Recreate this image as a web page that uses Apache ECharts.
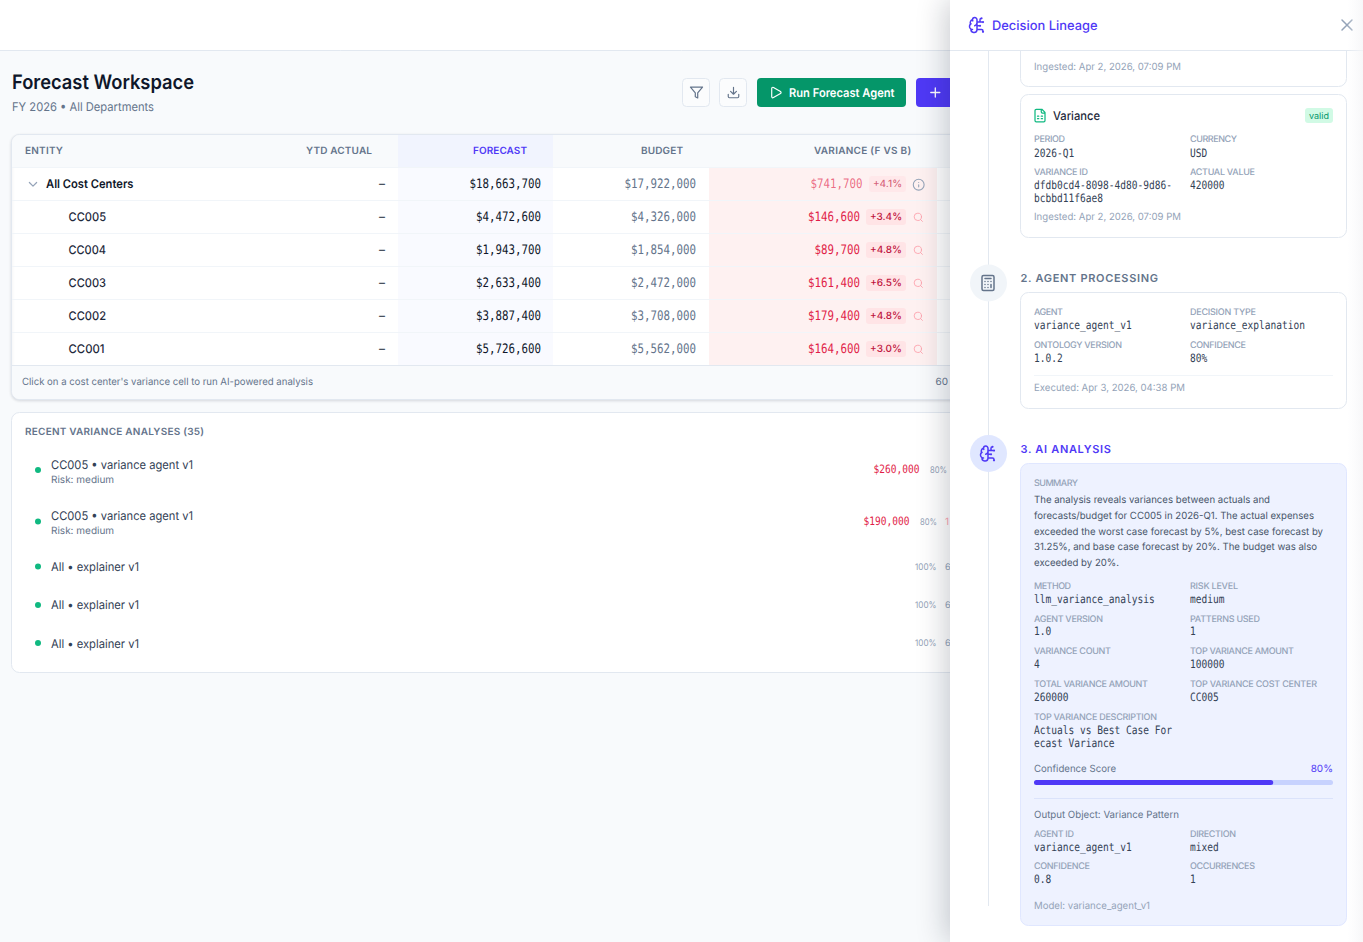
<!DOCTYPE html>
<html><head><meta charset="utf-8">
<style>html,body{margin:0;padding:0;background:#f8fafc}#c{width:1363px;height:942px}</style>
<script src="https://cdn.jsdelivr.net/npm/echarts@6/dist/echarts.min.js"></script></head>
<body><div id="c"></div>
<script>
// ---- data ----
const entities = ['All Cost Centers','CC005','CC004','CC003','CC002','CC001'];
const forecast = [18663700,4472600,1943700,2633400,3887400,5726600];
const budget = [17922000,4326000,1854000,2472000,3708000,5562000];
const variance = [741700,146600,89700,161400,179400,164600];
const variancePct = ['+4.1%','+3.4%','+4.8%','+6.5%','+4.8%','+3.0%'];
const columns = ['ENTITY','YTD ACTUAL','FORECAST','BUDGET','VARIANCE (F VS B)'];
const recentTitles = ['CC005 • variance agent v1','CC005 • variance agent v1','All • explainer v1','All • explainer v1','All • explainer v1'];
const recentRisk = ['Risk: medium','Risk: medium','','',''];
const recentAmounts = ['$260,000','$190,000','','',''];
const recentConfidence = ['80%','80%','100%','100%','100%'];
const summaryLines = ['The analysis reveals variances between actuals and','forecasts/budget for CC005 in 2026-Q1. The actual expenses','exceeded the worst case forecast by 5%, best case forecast by','31.25%, and base case forecast by 20%. The budget was also','exceeded by 20%.'];
const confidenceScore = [80];

// text quality: opaque canvas, unhinted glyphs, real letter spacing on tracked labels
const tracking=new Map();
const origGet=HTMLCanvasElement.prototype.getContext;
HTMLCanvasElement.prototype.getContext=function(t,o){
  const c=origGet.call(this,t,t==='2d'?Object.assign({alpha:false},o):o);
  if(t==='2d'&&c) c.textRendering='geometricPrecision';
  return c;
};
const origFill=CanvasRenderingContext2D.prototype.fillText;
CanvasRenderingContext2D.prototype.fillText=function(s,x,y,m){
  this.textRendering='geometricPrecision';
  this.letterSpacing=tracking.has(s)?tracking.get(s)+'px':'0px';
  return m==null?origFill.call(this,s,x,y):origFill.call(this,s,x,y,m);
};

const PURPLE='#4f39f6', SANS='Inter', MONO='"DejaVu Sans Mono"';
const mc=document.createElement('canvas').getContext('2d');
const els=[];
function rect(x,y,w,h,fill,o={}){els.push({type:'rect',silent:true,shape:{x,y,width:w,height:h,r:o.r||0},style:Object.assign({fill:fill||'none',stroke:o.stroke||null,lineWidth:o.lw||1},o.style||{})});}
function hline(x1,x2,y,c){els.push({type:'line',silent:true,shape:{x1,y1:y,x2,y2:y},style:{stroke:c,lineWidth:1}});}
function vline(x,y1,y2,c){els.push({type:'line',silent:true,shape:{x1:x,y1,x2:x,y2},style:{stroke:c,lineWidth:1}});}
function circle(cx,cy,r,fill){els.push({type:'circle',silent:true,shape:{cx,cy,r},style:{fill}});}
function text(s,x,y,o={}){
  const size=o.size||12,weight=o.weight||400,fam=o.fam||SANS;
  const font=`${weight} ${size}px ${fam}`;
  let sx=o.sx||1;
  if(o.w){mc.font=font;mc.textRendering='geometricPrecision';const m=mc.measureText(s).width;
    if(o.track) tracking.set(s,(o.w-m)/(s.length-1)); else sx=o.w/m;}
  els.push({type:'text',silent:true,x,y,scaleX:sx,style:{text:s,font,fill:o.color||'#0f172a',align:o.align||'left',verticalAlign:'middle',opacity:o.op==null?1:o.op}});
}
function mono(s,x,y,o={}){const size=o.size||11.5,cw=o.cw||5.75;text(s,x,y+.7,Object.assign({fam:MONO,color:'#334155'},o,{size,sx:cw/(size*0.602)}));}
function label(s,x,y,w){text(s,x,y,{size:9,color:'#94a3b8',weight:500,w,track:true});}
const I={
 filter:'M22 3H2l8 9.46V19l4 2v-8.54L22 3z',
 download:'M21 15v4a2 2 0 0 1-2 2H5a2 2 0 0 1-2-2v-4M7 10l5 5 5-5M12 15V3',
 play:'M5 5a2 2 0 0 1 3.008-1.728l11.997 6.998a2 2 0 0 1 .003 3.458l-12 7A2 2 0 0 1 5 19z',
 plus:'M5 12h14M12 5v14',
 chevron:'M6 9l6 6 6-6',
 info:'M22 12a10 10 0 1 1-20 0a10 10 0 1 1 20 0zM12 16v-4M12 8h.01',
 search:'M19 11a8 8 0 1 1-16 0a8 8 0 1 1 16 0zM21 21l-4.3-4.3',
 sheet:'M15 2H6a2 2 0 0 0-2 2v16a2 2 0 0 0 2 2h12a2 2 0 0 0 2-2V7zM14 2v4a2 2 0 0 0 2 2h4M8 13h2M14 13h2M8 17h2M14 17h2',
 calc:'M6 2h12a2 2 0 0 1 2 2v16a2 2 0 0 1-2 2H6a2 2 0 0 1-2-2V4a2 2 0 0 1 2-2zM8 6h8M16 14v4M16 10h.01M12 10h.01M8 10h.01M12 14h.01M8 14h.01M12 18h.01M8 18h.01',
 brain:'M12 5a3 3 0 1 0-5.997.125 4 4 0 0 0-2.526 5.77 4 4 0 0 0 .556 6.588A4 4 0 1 0 12 18zM9 13a4.5 4.5 0 0 0 3-4M6.003 5.125A3 3 0 0 0 6.401 6.5M3.477 10.896a4 4 0 0 1 .585-.396M6 18a4 4 0 0 1-1.967-.516M12 13h4M12 18h6a2 2 0 0 1 2 2v1M12 8h8M16 8V5a2 2 0 0 1 2-2M16.5 13a.5.5 0 1 1-1 0a.5.5 0 1 1 1 0zM18.5 3a.5.5 0 1 1-1 0a.5.5 0 1 1 1 0zM20.5 21a.5.5 0 1 1-1 0a.5.5 0 1 1 1 0zM20.5 8a.5.5 0 1 1-1 0a.5.5 0 1 1 1 0z',
 x:'M18 6L6 18M6 6l12 12'
};
Object.keys(I).forEach(n=>echarts.graphic.registerShape('ic_'+n,echarts.graphic.extendPath(I[n])));
function icon(n,cx,cy,size,color,sw=2){const k=size/24;els.push({type:'ic_'+n,silent:true,x:cx-size/2,y:cy-size/2,scaleX:k,scaleY:k,style:{fill:'none',stroke:color,lineWidth:sw,lineCap:'round',lineJoin:'round'}});}
const fmt=v=>'$'+v.toLocaleString('en-US');

// page
rect(0,0,1363,942,'#f8fafc');
rect(0,0,1363,50,'#ffffff'); hline(0,1363,50.5,'#e2e8f0');
text('Forecast Workspace',12,82.5,{size:20,weight:600,color:'#0f172a',w:182});
text('FY 2026 • All Departments',12,107.5,{size:12,color:'#64748b',w:142});
rect(682.5,78.5,27,28,'#fbfcfd',{r:4,stroke:'#e2e8f0'}); icon('filter',696.5,92.5,14.5,'#64748b',2);
rect(719.5,78.5,27,28,'#fbfcfd',{r:4,stroke:'#e2e8f0'}); icon('download',733.5,92.5,14,'#64748b',2);
rect(757,78,149,29,'#059669',{r:4}); icon('play',775.8,92.5,14,'#ffffff',2);
text('Run Forecast Agent',789,93.5,{size:12,weight:600,color:'#ffffff',w:105.5});
rect(916,78,50,29,PURPLE,{r:4}); icon('plus',935.3,92.5,15.5,'#ffffff',2);

// table card
rect(11.5,134.5,961,265,'#ffffff',{r:8,stroke:'#e2e8f0',style:{shadowBlur:3,shadowColor:'rgba(15,23,42,.12)',shadowOffsetY:1}});
rect(12,135,960,32,'#f8fafc',{r:[8,8,0,0]});
rect(398,135,155,32,'#f1f4fe');
rect(398,167,155,198,'#f9faff');
rect(709,167,228,198,'#fef1f1');
rect(12,366,960,33,'#f8fafc',{r:[0,0,8,8]});
hline(12,972,167.5,'#f1f5f9');
[200.5,233.5,266.5,299.5,332.5].forEach(y=>hline(12,972,y,'#f1f5f9'));
hline(12,972,365.5,'#e2e8f0');
const colX=[[25,38],[306,66],[473,54],[641,42],[814,97]];
columns.forEach((c,i)=>text(c,colX[i][0],150.5,{size:10,weight:600,color:i==2?PURPLE:'#64748b',w:colX[i][1],track:true}));
entities.forEach((e,i)=>{
  const y=184+33*i, top=i==0;
  if(top){icon('chevron',33,184.3,14.5,'#94a3b8',2);text(e,46,y,{size:12,weight:600,color:'#0f172a',w:87.5});}
  else text(e,68.5,y,{size:12,weight:500,color:'#1e293b',w:i==5?36:37.5});
  text('–',385,y,{size:12,color:'#1e293b',align:'right'});
  mono(fmt(forecast[i]),541,y,{size:13,cw:6.5,align:'right',color:'#0f172a'});
  mono(fmt(budget[i]),696,y,{size:13,cw:6.5,align:'right',color:'#64748b'});
  mono(fmt(variance[i]),top?862.5:860,y,{size:13,cw:6.5,align:'right',color:'#e11d48',op:top?.65:1});
  const bx=top?869:866;
  rect(bx,y-8,906-bx,16,'#ffe4e6',{r:3,style:{opacity:top?.65:1}});
  text(variancePct[i],(bx+906)/2,y,{size:10,weight:500,color:'#be123c',align:'center',op:top?.65:1});
  if(top) icon('info',918.7,y+.7,13,'#94a3b8',2); else icon('search',918.3,y+.3,11,'#fda4af',2);
});
text("Click on a cost center's variance cell to run AI-powered analysis",22,381.5,{size:10,color:'#64748b',w:291});
text('60',935.5,381.5,{size:10,color:'#64748b'});

// recent card
rect(11.5,412.5,961,260,'#ffffff',{r:8,stroke:'#e2e8f0'});
text('RECENT VARIANCE ANALYSES (35)',25,431.5,{size:10,weight:600,color:'#64748b',w:179,track:true});
const recY=[465,516,567,605,644], dotY=[470,521.5,566.5,605,643], amtR=[919.5,909.5], confX=[930,920,915,915,915], confW=[17,17,21.5,21.5,21.5];
recentTitles.forEach((t,i)=>{
  circle(38,dotY[i],3,'#10b981');
  text(t,51,recY[i],{size:12,color:'#334155',w:i<2?142:88});
  if(recentRisk[i]) text(recentRisk[i],51,recY[i]+15,{size:10,color:'#64748b'});
  if(recentAmounts[i]) mono(recentAmounts[i],amtR[i],dotY[i]-.5,{size:11.5,cw:5.75,align:'right',color:'#e11d48'});
  text(recentConfidence[i],confX[i],dotY[i]+.5,{size:9,color:'#94a3b8',w:confW[i]});
});
text('1',945,521.5,{size:10,color:'#fda4af'});
[567,605,643].forEach(y=>text('6',945,y,{size:9,color:'#94a3b8'}));

// side panel
rect(950,0,413,942,'#ffffff',{style:{shadowBlur:28,shadowColor:'rgba(15,23,42,.22)',shadowOffsetX:-4}});
vline(988.5,51,265,'#e2e8f0'); vline(988.5,301,436,'#e2e8f0'); vline(988.5,472,906,'#e2e8f0');

rect(1020.5,30.5,326,56,'#ffffff',{r:8,stroke:'#e2e8f0'});
text('Ingested: Apr 2, 2026, 07:09 PM',1034,66.5,{size:10,color:'#94a3b8',w:147});

rect(1020.5,94.5,326,143,'#ffffff',{r:8,stroke:'#e2e8f0'});
icon('sheet',1040,115.5,15,'#10b981',2);
text('Variance',1053,116,{size:12,weight:500,color:'#1e293b',w:47});
rect(1305,108,28,15,'#d1fae5',{r:3});
text('valid',1319,116,{size:9,color:'#059669',align:'center'});
label('PERIOD',1034,139,31);mono('2026-Q1',1034,153);
label('CURRENCY',1190,139,47);mono('USD',1190,153);
label('VARIANCE ID',1034,172,54);mono('dfdb0cd4-8098-4d80-9d86-',1034,185);mono('bcbbd11f6ae8',1034,198);
label('ACTUAL VALUE',1190,172,65);mono('420000',1190,185);
text('Ingested: Apr 2, 2026, 07:09 PM',1034,216.5,{size:10,color:'#94a3b8',w:147});

circle(988.5,283,18.5,'#f1f5f9'); icon('calc',988,283,18,'#64748b',2);
text('2. AGENT PROCESSING',1020.5,278.5,{size:11,weight:600,color:'#64748b',w:137.5,track:true});
rect(1020.5,292.5,326,116,'#ffffff',{r:8,stroke:'#e2e8f0'});
label('AGENT',1034,312,29);mono('variance_agent_v1',1034,325.5);
label('DECISION TYPE',1190,312,66);mono('variance_explanation',1190,325.5);
label('ONTOLOGY VERSION',1034,345,88);mono('1.0.2',1034,358.5);
label('CONFIDENCE',1190,345,56);mono('80%',1190,358.5);
hline(1034,1333,375.5,'#f1f5f9');
text('Executed: Apr 3, 2026, 04:38 PM',1034,387.5,{size:10,color:'#94a3b8',w:151});

circle(988.5,453.5,18.5,'#e0e7ff'); icon('brain',988,453.5,18,PURPLE,2);
text('3. AI ANALYSIS',1020.5,449.5,{size:11,weight:600,color:PURPLE,w:90.5,track:true});
rect(1020.5,463.5,326,462,'#eef2ff',{r:8,stroke:'#e0e7ff'});
label('SUMMARY',1034,483,44);
const sumY=[500,516,531.5,547,563], sumW=[236,280,289,283,85];
summaryLines.forEach((l,i)=>text(l,1034,sumY[i],{size:10,color:'#475569',w:sumW[i]}));
label('METHOD',1034,586.5,37);mono('llm_variance_analysis',1034,599);
label('RISK LEVEL',1190,586.5,48);mono('medium',1190,599);
label('AGENT VERSION',1034,619,69);mono('1.0',1034,631.5);
label('PATTERNS USED',1190,619,70);mono('1',1190,631.5);
label('VARIANCE COUNT',1034,651,77);mono('4',1034,664.5);
label('TOP VARIANCE AMOUNT',1190,651,104);mono('100000',1190,664.5);
label('TOTAL VARIANCE AMOUNT',1034,684,114);mono('260000',1034,697.5);
label('TOP VARIANCE COST CENTER',1190,684,127);mono('CC005',1190,697.5);
label('TOP VARIANCE DESCRIPTION',1034,717,123);mono('Actuals vs Best Case For',1034,730);mono('ecast Variance',1034,743);
text('Confidence Score',1034,769,{size:10,color:'#64748b',w:82});
text(confidenceScore[0]+'%',1333,769,{size:10,color:PURPLE,align:'right'});
hline(1034,1333,798.5,'#dbe3fb');
text('Output Object: Variance Pattern',1034,815,{size:10,color:'#64748b',w:145});
label('AGENT ID',1034,834,40);mono('variance_agent_v1',1034,847);
label('DIRECTION',1190,834,46);mono('mixed',1190,847);
label('CONFIDENCE',1034,866,56);mono('0.8',1034,879.5);
label('OCCURRENCES',1190,866,65);mono('1',1190,879.5);
text('Model: variance_agent_v1',1034,906,{size:10,color:'#94a3b8',w:116});

// panel header
rect(950,0,413,50,'#ffffff'); hline(950,1363,50.5,'#e2e8f0');
icon('brain',977,25,18,PURPLE,2);
text('Decision Lineage',992,26,{size:13,weight:500,color:PURPLE,w:105.5});
icon('x',1347,25,20,'#94a3b8',1.8);
rect(1347,0,16,942,null,{style:{fill:{type:'linear',x:0,y:0,x2:1,y2:0,colorStops:[{offset:0,color:'rgba(248,248,250,0)'},{offset:1,color:'rgba(245,245,247,.8)'}]}}});

const chart=echarts.init(document.getElementById('c'),null,{renderer:'canvas',width:1363,height:942});
chart.setOption({
  animation:false,
  backgroundColor:'#f8fafc',
  tooltip:{show:false},
  graphic:{elements:els},
  grid:{left:1034,top:780,width:299,height:5,containLabel:false},
  xAxis:{type:'value',min:0,max:100,show:false},
  yAxis:{type:'category',data:['Confidence Score'],show:false},
  series:[{type:'bar',data:confidenceScore,barWidth:5,silent:true,
    itemStyle:{color:PURPLE,borderRadius:2.5},
    showBackground:true,backgroundStyle:{color:'#c7d2fe',borderRadius:2.5}}]
});
</script></body></html>
